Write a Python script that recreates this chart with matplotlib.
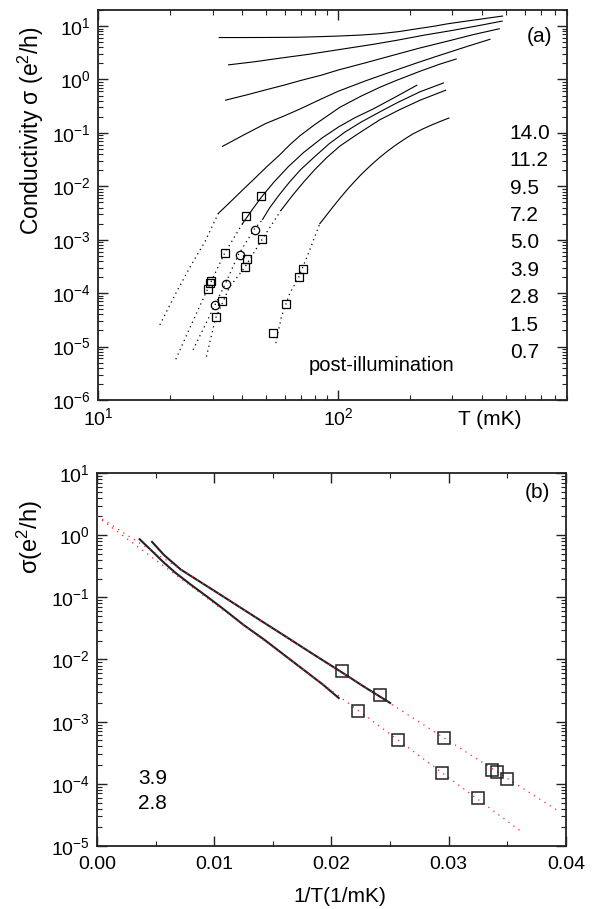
import matplotlib
matplotlib.use('Agg')
import numpy as np
import matplotlib.pyplot as plt
from matplotlib.ticker import (LogLocator, NullFormatter, MultipleLocator, FixedLocator,
                               FormatStrFormatter, LogFormatterSciNotation)

plt.rcParams['font.family'] = ['Liberation Sans', 'DejaVu Sans']
plt.rcParams['mathtext.fontset'] = 'custom'
plt.rcParams['mathtext.rm'] = 'Liberation Sans'
plt.rcParams['mathtext.it'] = 'Liberation Sans:italic'
plt.rcParams['mathtext.bf'] = 'Liberation Sans:bold'
plt.rcParams['mathtext.default'] = 'regular'

# ---------------- data: panel (a) sigma(T) ----------------
DENSITY_LABELS = ['14.0', '11.2', '9.5', '7.2', '5.0', '3.9', '2.8', '1.5', '0.7']

T_140 = [32, 40, 50, 60, 70, 85, 100, 125, 150, 180, 210, 250, 285, 330, 380, 430, 485]
S_140 = [6.1, 6.1, 6.12, 6.15, 6.2, 6.35, 6.5, 6.8, 7.2, 7.9, 8.8, 9.9, 11.0, 12.1, 13.2, 14.3, 15.4]

T_112 = [35, 45, 57, 75, 100, 140, 175, 230, 300, 390, 483]
S_112 = [1.88, 2.15, 2.5, 2.95, 3.6, 4.55, 5.4, 6.8, 8.3, 10.3, 12.4]

T_95 = [34, 42, 50, 60, 70, 85, 100, 130, 170, 220, 290, 370, 470]
S_95 = [0.41, 0.52, 0.64, 0.79, 0.96, 1.2, 1.5, 2.05, 2.85, 3.9, 5.3, 7.0, 8.9]

T_72 = [33, 40, 50, 60, 70, 85, 100, 130, 170, 210, 250, 300, 350, 430]
S_72 = [0.056, 0.089, 0.15, 0.21, 0.285, 0.43, 0.60, 0.94, 1.44, 2.0, 2.6, 3.39, 4.24, 5.66]

T_50 = [31.7, 36, 40, 45, 50.4, 57, 63, 69.3, 80, 90, 101.6, 125, 150, 175, 220, 265, 311]
S_50 = [3.1e-3, 5.36e-3, 8.5e-3, 0.0141, 0.0231, 0.0383, 0.06, 0.088, 0.143, 0.206,
        0.30, 0.49, 0.72, 0.96, 1.43, 1.93, 2.42]
T_50_FIT = [18.1, 20.9, 24.2, 27.9, 31.7]
S_50_FIT = [2.55e-5, 9.2e-5, 3.1e-4, 9.2e-4, 3.1e-3]

T_39 = [40, 44, 48, 54, 62, 72, 86, 101, 118, 140, 175, 213]
S_39 = [0.0020, 0.0037, 0.0063, 0.0119, 0.0232, 0.0432, 0.081, 0.131, 0.194, 0.28, 0.48, 0.78]
T_39_FIT = [21.1, 24.2, 28.3, 33.7, 40]
S_39_FIT = [5.8e-6, 2.3e-5, 1.07e-4, 5.6e-4, 2.0e-3]
T_39_PTS = [47.8, 41.5, 33.8, 29.7, 29.3, 28.6]
S_39_PTS = [6.6e-3, 2.73e-3, 5.56e-4, 1.66e-4, 1.56e-4, 1.19e-4]

T_28 = [48.5, 52, 57, 63, 70, 80, 92, 107, 125, 150, 177, 220, 275]
S_28 = [0.0024, 0.0040, 0.0070, 0.0122, 0.0207, 0.036, 0.063, 0.104, 0.16, 0.25, 0.37, 0.59, 0.86]
T_28_FIT = [24.9, 30.7, 34.1, 38.4, 44.7, 48.5]
S_28_FIT = [8.7e-6, 6.0e-5, 1.57e-4, 5.2e-4, 1.56e-3, 2.4e-3]
T_28_PTS = [45.0, 38.96, 34.0, 30.8]
S_28_PTS = [1.51e-3, 5.1e-4, 1.51e-4, 5.9e-5]

T_15 = [58, 65, 72, 80, 90, 102, 120, 149, 180, 220, 281]
S_15 = [3.6e-3, 6.97e-3, 0.0121, 0.0205, 0.0349, 0.057, 0.0936, 0.175, 0.27, 0.41, 0.63]
T_15_FIT = [28.3, 30.9, 35.4, 40.9, 48.3, 58]
S_15_FIT = [6.5e-6, 3.4e-5, 1.32e-4, 3.05e-4, 1.02e-3, 3.6e-3]
T_15_PTS = [48.3, 41.8, 40.9, 33.0, 30.9]
S_15_PTS = [1.02e-3, 4.3e-4, 3.05e-4, 7.2e-5, 3.6e-5]

T_07 = [84, 90, 96, 103, 110, 117, 125, 136, 149, 162, 175, 190, 205, 225, 245, 265, 290]
S_07 = [2.0e-3, 2.97e-3, 4.3e-3, 6.34e-3, 8.98e-3, 0.0122, 0.0167, 0.024, 0.0346, 0.0467,
        0.0603, 0.0772, 0.0955, 0.118, 0.14, 0.162, 0.19]
T_07_FIT = [55.1, 58.1, 63, 68.6, 76.2, 84]
S_07_FIT = [1.16e-5, 3.6e-5, 1.0e-4, 1.98e-4, 6.4e-4, 2.0e-3]
T_07_PTS = [53.7, 60.5, 68.6, 71.4]
S_07_PTS = [1.83e-5, 6.3e-5, 1.98e-4, 2.87e-4]

# ---------------- data: panel (b) Arrhenius fits ----------------
FIT_INVT_39 = [0.0, 0.0395]
FIT_S_39 = [2.05, 3.5e-5]
FIT_INVT_28 = [0.0, 0.0362]
FIT_S_28 = [2.0, 1.7e-5]
PANEL_B_LABELS = ['3.9', '2.8']

# tick values
A_XTICKS = [10, 100]
A_YTICKS = [1e-6, 1e-5, 1e-4, 1e-3, 1e-2, 1e-1, 1e0, 1e1]
B_YTICKS = [1e-5, 1e-4, 1e-3, 1e-2, 1e-1, 1e0, 1e1]

# ---------------- figure ----------------
fig = plt.figure(figsize=(5.94, 9.09), dpi=100)
axA = fig.add_axes([0.16498, 0.55996, 0.78956, 0.42904])
axB = fig.add_axes([0.1633, 0.06931, 0.78956, 0.41034])

LW = 0.8
DOT = (0, (1, 3))

solid_sets = [(T_140, S_140), (T_112, S_112), (T_95, S_95), (T_72, S_72),
              (T_50, S_50), (T_39, S_39), (T_28, S_28), (T_15, S_15), (T_07, S_07)]
for T, S in solid_sets:
    axA.plot(T, S, color='black', lw=LW)

fit_sets = [(T_50_FIT, S_50_FIT), (T_39_FIT, S_39_FIT), (T_28_FIT, S_28_FIT),
            (T_15_FIT, S_15_FIT), (T_07_FIT, S_07_FIT)]
for T, S in fit_sets:
    axA.plot(T, S, color='black', lw=0.9, linestyle=DOT)

sq = dict(marker='s', mfc='none', mec='black', mew=0.9, ms=6, linestyle='none')
axA.plot(T_39_PTS, S_39_PTS, **sq)
axA.plot(T_15_PTS, S_15_PTS, **sq)
axA.plot(T_07_PTS, S_07_PTS, **sq)
axA.plot(T_28_PTS, S_28_PTS, marker='o', mfc='none', mec='black', mew=0.9, ms=6,
         linestyle='none')

axA.set_xscale('log')
axA.set_yscale('log')
axA.set_xlim(10, 900)
axA.set_ylim(1e-6, 20)

# panel (b)
invT_39 = 1.0 / np.array(T_39)
invT_28 = 1.0 / np.array(T_28)
axB.plot(invT_39, S_39, color='#222222', lw=1.5, zorder=2)
axB.plot(invT_28, S_28, color='#222222', lw=1.5, zorder=2)
axB.plot(FIT_INVT_39, FIT_S_39, color='#ff2020', lw=0.9, linestyle=(0, (1, 4)), zorder=3)
axB.plot(FIT_INVT_28, FIT_S_28, color='#ff2020', lw=0.9, linestyle=(0, (1, 4)), zorder=3)
sqb = dict(marker='s', mfc='none', mec='#222222', mew=1.1, ms=8.4, linestyle='none', zorder=4)
axB.plot(1.0 / np.array(T_39_PTS), S_39_PTS, **sqb)
axB.plot(1.0 / np.array(T_28_PTS), S_28_PTS, **sqb)

axB.set_yscale('log')
axB.set_xlim(0, 0.04)
axB.set_ylim(1e-5, 10)
axB.xaxis.set_major_locator(MultipleLocator(0.01))
axB.xaxis.set_minor_locator(MultipleLocator(0.005))
axB.xaxis.set_major_formatter(FormatStrFormatter('%.2f'))

TICK_FS = 14
for ax, yt in ((axA, A_YTICKS), (axB, B_YTICKS)):
    for sp in ax.spines.values():
        sp.set_linewidth(1.3)
        sp.set_color('#222222')
    ax.tick_params(which='both', direction='in', top=True, right=True,
                   labelsize=TICK_FS, colors='#222222', pad=5)
    ax.tick_params(which='major', length=7, width=1.0)
    ax.tick_params(which='minor', length=3.5, width=0.8)
    ax.yaxis.set_major_locator(FixedLocator(yt))
    ax.yaxis.set_minor_locator(LogLocator(base=10, subs=np.arange(2, 10), numticks=20))
    ax.yaxis.set_minor_formatter(NullFormatter())
    ax.yaxis.set_major_formatter(LogFormatterSciNotation())

axB.tick_params(axis='x', which='both', pad=7)

axA.xaxis.set_major_locator(FixedLocator(A_XTICKS))
axA.xaxis.set_minor_locator(LogLocator(base=10, subs=np.arange(2, 10), numticks=20))
axA.xaxis.set_minor_formatter(NullFormatter())
axA.xaxis.set_major_formatter(LogFormatterSciNotation())

for ax in (axA, axB):
    for lab in ax.get_xticklabels() + ax.get_yticklabels():
        lab.set_color('black')

TXT_FS = 15
# density labels
for i, lab in enumerate(DENSITY_LABELS):
    axA.text(0.878, 0.684 - i * 0.0703, lab, transform=axA.transAxes,
             fontsize=TXT_FS, ha='left', va='center')
axA.text(0.915, 0.931, '(a)', transform=axA.transAxes, fontsize=TXT_FS,
         ha='left', va='center')
axA.text(0.45, 0.0897, 'post-illumination', transform=axA.transAxes,
         fontsize=TXT_FS - 0.5, ha='left', va='center')
axA.text(0.836, -0.051, 'T (mK)', transform=axA.transAxes, fontsize=TXT_FS,
         ha='center', va='center')
fig.text(31 / 594, 1 - 131 / 909, 'Conductivity σ (e$^{2}$/h)', rotation=90,
         fontsize=16.5, ha='center', va='center')

axB.text(0.913, 0.949, '(b)', transform=axB.transAxes, fontsize=TXT_FS,
         ha='left', va='center')
axB.text(0.0874, 0.18, PANEL_B_LABELS[0], transform=axB.transAxes, fontsize=TXT_FS,
         ha='left', va='center')
axB.text(0.0874, 0.115, PANEL_B_LABELS[1], transform=axB.transAxes, fontsize=TXT_FS,
         ha='left', va='center')
fig.text(340 / 594, 1 - 897 / 909, '1/T(1/mK)', fontsize=TXT_FS, ha='center', va='center')
fig.text(30 / 594, 1 - 537 / 909, 'σ(e$^{2}$/h)', rotation=90, fontsize=17,
         ha='center', va='center')

fig.savefig('out.png', dpi=100)
